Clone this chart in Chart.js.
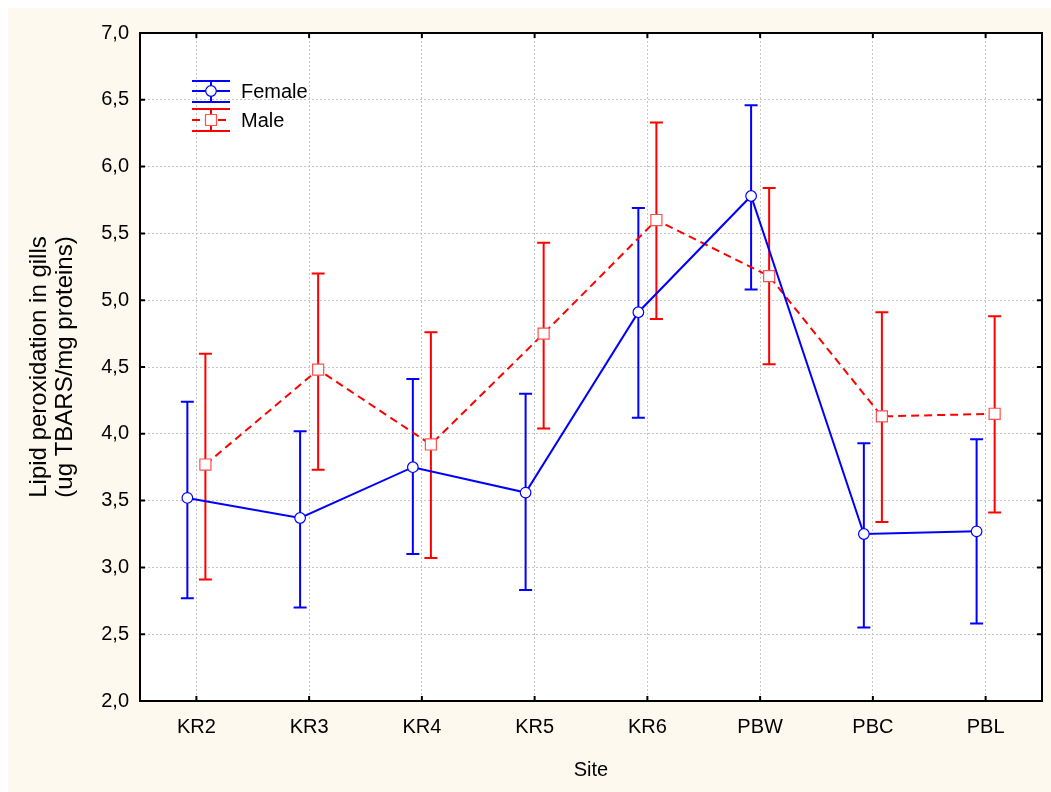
<!DOCTYPE html>
<html>
<head>
<meta charset="utf-8">
<script src="https://cdn.jsdelivr.net/npm/chart.js@4"></script>
<style>
  html, body { margin: 0; padding: 0; background: #fff; }
  #wrap { width: 1051px; height: 792px; position: relative; }
</style>
</head>
<body>
<div id="wrap"><canvas id="lipidChart"></canvas></div>
<script>
// data
const sites = ['KR2', 'KR3', 'KR4', 'KR5', 'KR6', 'PBW', 'PBC', 'PBL'];
const femaleMean = [3.52, 3.37, 3.75, 3.56, 4.91, 5.78, 3.25, 3.27];
const femaleLow = [2.77, 2.70, 3.10, 2.83, 4.12, 5.08, 2.55, 2.58];
const femaleHigh = [4.24, 4.02, 4.41, 4.30, 5.69, 6.46, 3.93, 3.96];
const maleMean = [3.77, 4.48, 3.92, 4.75, 5.60, 5.18, 4.13, 4.15];
const maleLow = [2.91, 3.73, 3.07, 4.04, 4.86, 4.52, 3.34, 3.41];
const maleHigh = [4.60, 5.20, 4.76, 5.43, 6.33, 5.84, 4.91, 4.88];
const yTicks = [2.0, 2.5, 3.0, 3.5, 4.0, 4.5, 5.0, 5.5, 6.0, 6.5, 7.0];

const FONT = "'Liberation Sans', Arial, sans-serif";
const shift = 0.08;

const toPoints = (vals, dx) => vals.map((v, i) => ({ x: i + dx, y: v }));

// background, frame, inner ticks, error bars, legend
const decorPlugin = {
    id: 'decor',
    beforeDraw(chart) {
        const { ctx, width, height } = chart;
        ctx.save();
        ctx.fillStyle = '#fdf9ee';
        ctx.fillRect(8, 8, width - 8, height - 8);
        const a = chart.chartArea;
        ctx.fillStyle = '#ffffff';
        ctx.fillRect(a.left, a.top, a.right - a.left, a.bottom - a.top);
        ctx.restore();
    },
    beforeDatasetsDraw(chart) {
        const { ctx, scales: { x, y } } = chart;
        const bars = [
            { low: femaleLow, high: femaleHigh, dx: -shift, color: '#0000ff' },
            { low: maleLow, high: maleHigh, dx: shift, color: '#ff0000' }
        ];
        ctx.save();
        ctx.lineWidth = 2;
        bars.forEach(b => {
            ctx.strokeStyle = b.color;
            b.low.forEach((lo, i) => {
                const px = x.getPixelForValue(i + b.dx);
                const y1 = y.getPixelForValue(lo);
                const y2 = y.getPixelForValue(b.high[i]);
                ctx.beginPath();
                ctx.moveTo(px, y1); ctx.lineTo(px, y2);
                ctx.moveTo(px - 6.5, y1); ctx.lineTo(px + 6.5, y1);
                ctx.moveTo(px - 6.5, y2); ctx.lineTo(px + 6.5, y2);
                ctx.stroke();
            });
        });
        ctx.restore();
    },
    afterDraw(chart) {
        const { ctx, scales: { x, y } } = chart;
        const a = chart.chartArea;
        ctx.save();
        // frame
        ctx.strokeStyle = '#000';
        ctx.lineWidth = 2;
        ctx.strokeRect(a.left, a.top, a.right - a.left, a.bottom - a.top);
        // inner tick marks
        ctx.beginPath();
        x.ticks.forEach(t => {
            const px = x.getPixelForValue(t.value);
            ctx.moveTo(px, a.bottom); ctx.lineTo(px, a.bottom - 5);
            ctx.moveTo(px, a.top); ctx.lineTo(px, a.top + 5);
        });
        y.ticks.forEach(t => {
            const py = y.getPixelForValue(t.value);
            ctx.moveTo(a.left, py); ctx.lineTo(a.left + 5, py);
            ctx.moveTo(a.right, py); ctx.lineTo(a.right - 5, py);
        });
        ctx.stroke();

        // legend
        const lx = 192, lw = 38, cx = lx + lw / 2;
        const items = [
            { label: 'Female', color: '#0000ff', yc: 91, top: 81, bot: 102, dash: [], marker: 'circle' },
            { label: 'Male', color: '#ff0000', yc: 120, top: 109, bot: 131, dash: [8, 5], marker: 'rect' }
        ];
        items.forEach(it => {
            ctx.strokeStyle = it.color;
            ctx.lineWidth = 2;
            ctx.setLineDash([]);
            ctx.beginPath();
            ctx.moveTo(lx, it.top); ctx.lineTo(lx + lw, it.top);
            ctx.moveTo(lx, it.bot); ctx.lineTo(lx + lw, it.bot);
            ctx.moveTo(cx, it.top); ctx.lineTo(cx, it.bot);
            ctx.stroke();
            ctx.setLineDash(it.dash);
            ctx.beginPath();
            ctx.moveTo(lx, it.yc); ctx.lineTo(lx + lw, it.yc);
            ctx.stroke();
            ctx.setLineDash([]);
            ctx.fillStyle = '#fff';
            ctx.lineWidth = 1.2;
            ctx.beginPath();
            if (it.marker === 'circle') {
                ctx.arc(cx, it.yc, 5.3, 0, Math.PI * 2);
                ctx.strokeStyle = '#0000ff';
            } else {
                ctx.rect(cx - 5.5, it.yc - 5.5, 11, 11);
                ctx.strokeStyle = '#ff5050';
            }
            ctx.fill();
            ctx.stroke();
            ctx.fillStyle = '#000';
            ctx.font = '20px ' + FONT;
            ctx.textBaseline = 'middle';
            ctx.textAlign = 'left';
            ctx.fillText(it.label, 241, it.yc + 1);
        });
        ctx.restore();
    }
};

new Chart(document.getElementById('lipidChart'), {
    type: 'line',
    data: {
        datasets: [{
            label: 'Female',
            data: toPoints(femaleMean, -shift),
            borderColor: '#0000ff',
            borderWidth: 2,
            pointStyle: 'circle',
            pointRadius: 5.3,
            pointBackgroundColor: '#ffffff',
            pointBorderColor: '#0000ff',
            pointBorderWidth: 1.2,
            tension: 0
        }, {
            label: 'Male',
            data: toPoints(maleMean, shift),
            borderColor: '#ff0000',
            borderWidth: 2,
            borderDash: [8, 5],
            pointStyle: 'rect',
            pointRadius: 7.8,
            pointBackgroundColor: '#ffffff',
            pointBorderColor: '#ff5050',
            pointBorderWidth: 1.2,
            tension: 0
        }]
    },
    options: {
        responsive: true,
        maintainAspectRatio: false,
        animation: false,
        layout: { padding: { left: 0, top: 33, right: 6, bottom: 0 } },
        plugins: {
            legend: { display: false },
            tooltip: { enabled: false }
        },
        scales: {
            x: {
                type: 'linear',
                min: -0.5,
                max: 7.5,
                afterBuildTicks: scale => {
                    scale.ticks = sites.map((s, i) => ({ value: i }));
                },
                afterFit: scale => { scale.height = 91; },
                grid: { color: '#c4c4c4', drawTicks: false },
                border: { display: false, dash: [2, 2] },
                ticks: {
                    color: '#000',
                    padding: 14,
                    font: { family: FONT, size: 20 },
                    callback: v => sites[v] ?? ''
                },
                title: {
                    display: true,
                    text: 'Site',
                    color: '#000',
                    font: { family: FONT, size: 20 },
                    padding: { top: 0, bottom: 10 }
                }
            },
            y: {
                min: 2,
                max: 7,
                afterBuildTicks: scale => {
                    scale.ticks = yTicks.map(v => ({ value: v }));
                },
                afterFit: scale => { scale.width = 140; },
                grid: { color: '#c4c4c4', drawTicks: false },
                border: { display: false, dash: [2, 2] },
                ticks: {
                    color: '#000',
                    padding: 11,
                    font: { family: FONT, size: 20 },
                    callback: v => v.toFixed(1).replace('.', ',')
                },
                title: {
                    display: true,
                    text: ['Lipid peroxidation in gills', '(ug TBARS/mg proteins)'],
                    color: '#000',
                    font: { family: FONT, size: 24, lineHeight: 1.1 },
                    padding: { top: 26, bottom: 0 }
                }
            }
        }
    },
    plugins: [decorPlugin]
});
</script>
</body>
</html>
